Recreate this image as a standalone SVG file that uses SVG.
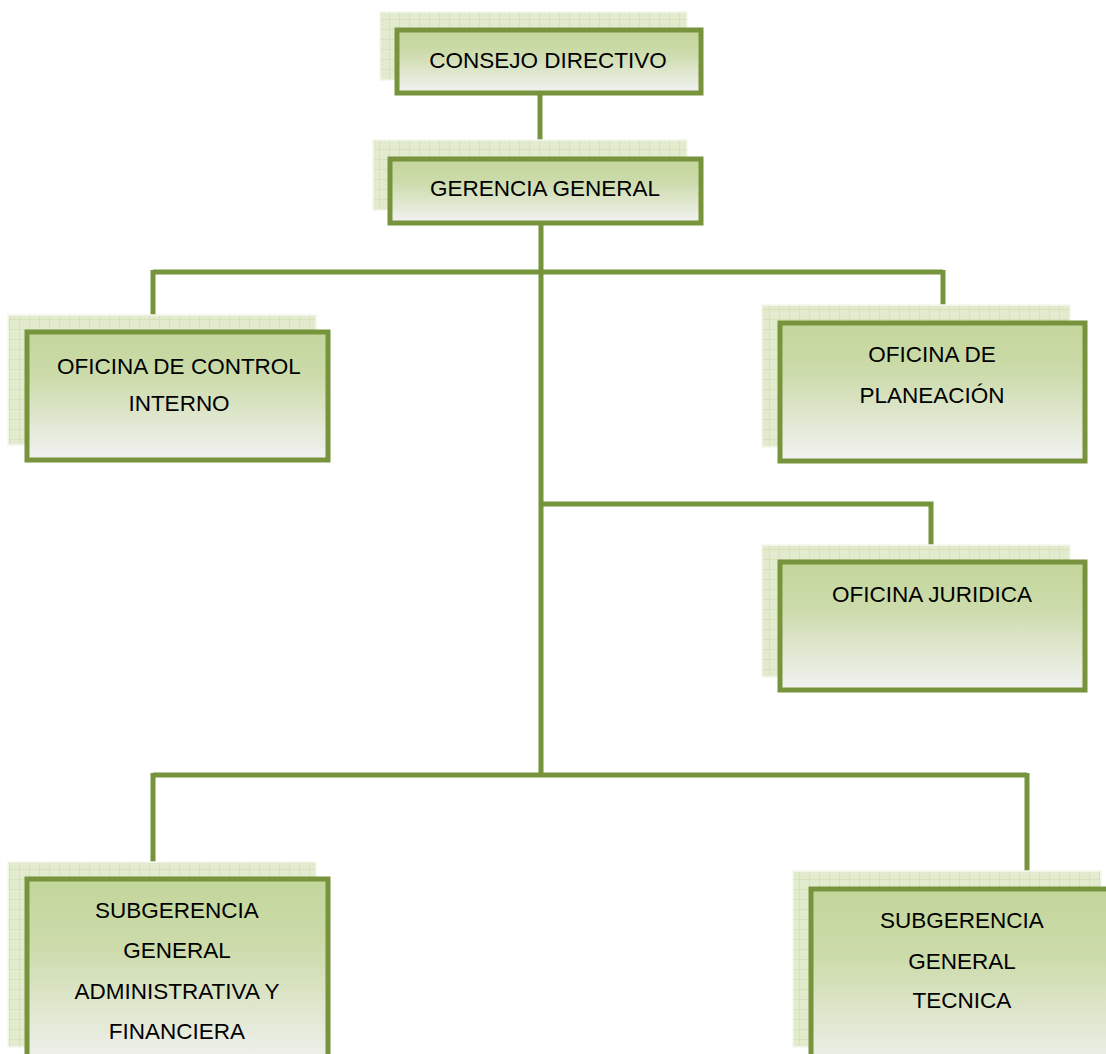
<svg xmlns="http://www.w3.org/2000/svg" width="1106" height="1054" viewBox="0 0 1106 1054">
<defs>
<linearGradient id="g" x1="0" y1="0" x2="0" y2="1">
<stop offset="0" stop-color="#C3D69B"/>
<stop offset="0.35" stop-color="#CCDBAA"/>
<stop offset="1" stop-color="#F2F2F2"/>
</linearGradient>
<pattern id="grid" width="10" height="10" patternUnits="userSpaceOnUse">
<rect width="10" height="10" fill="#E2EBCE"/>
<path d="M10 0V10M0 10H10" stroke="#CADAA6" stroke-width="1" fill="none"/>
</pattern>
<style>
.sh{fill:url(#grid);stroke:#F4F7EC;stroke-width:1.5}
.bx{fill:url(#g);stroke:#77933C;stroke-width:5}
.ln{stroke:#77933C;stroke-width:5;fill:none}
text{font-family:"Liberation Sans",Arial,sans-serif;font-size:22.5px;fill:#000;text-anchor:middle}
</style>
</defs>
<rect width="1106" height="1054" fill="#fff"/>
<g id="connectors">
<path class="ln" d="M540 95V158"/>
<path class="ln" d="M541 225V775"/>
<path class="ln" d="M153 272H943M153 270V332M943 270V330"/>
<path class="ln" d="M541 504H931V562"/>
<path class="ln" d="M153 775H1027M153 773V880M1027 773V889"/>
</g>
<g id="consejo">
<rect class="sh" x="380" y="12" width="307" height="68"/>
<rect class="bx" x="397" y="30" width="304" height="63"/>
<text x="548" y="68">CONSEJO DIRECTIVO</text>
</g>
<g id="gerencia">
<rect class="sh" x="373" y="140" width="314" height="70"/>
<rect class="bx" x="390" y="159" width="311" height="64"/>
<text x="545" y="196">GERENCIA GENERAL</text>
</g>
<g id="control">
<rect class="sh" x="8" y="315" width="308" height="130"/>
<rect class="bx" x="27" y="332" width="301" height="128"/>
<text x="179" y="374">OFICINA DE CONTROL</text>
<text x="179" y="411">INTERNO</text>
</g>
<g id="planeacion">
<rect class="sh" x="762" y="305" width="308" height="142"/>
<rect class="bx" x="780" y="323" width="305" height="138"/>
<text x="932" y="362">OFICINA DE</text>
<text x="932" y="403">PLANEACIÓN</text>
</g>
<g id="juridica">
<rect class="sh" x="762" y="545" width="308" height="132"/>
<rect class="bx" x="780" y="562" width="305" height="128"/>
<text x="932" y="602">OFICINA JURIDICA</text>
</g>
<g id="subadmin">
<rect class="sh" x="8" y="862" width="308" height="185"/>
<rect class="bx" x="27" y="879" width="301" height="190"/>
<text x="177" y="918">SUBGERENCIA</text>
<text x="177" y="958">GENERAL</text>
<text x="177" y="999">ADMINISTRATIVA Y</text>
<text x="177" y="1039">FINANCIERA</text>
</g>
<g id="subtecnica">
<rect class="sh" x="793" y="871" width="308" height="176"/>
<rect class="bx" x="811" y="889" width="305" height="190"/>
<text x="962" y="928">SUBGERENCIA</text>
<text x="962" y="969">GENERAL</text>
<text x="962" y="1008">TECNICA</text>
</g>
</svg>
